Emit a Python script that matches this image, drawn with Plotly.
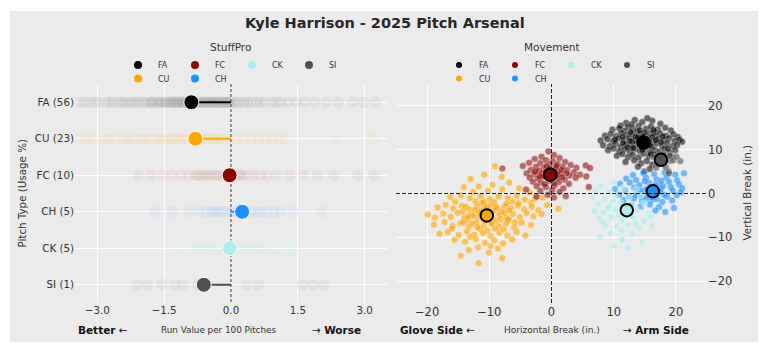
import plotly.graph_objects as go

W, H = 769, 351
def px(x): return x / W
def py(y): return 1 - y / H

FONT = "DejaVu Sans"
TXT = "#333333"
BG = "#ebebeb"

# ---------------- data ----------------
PITCHES = ["FA", "CU", "FC", "CH", "CK", "SI"]
USAGE = [56, 23, 10, 5, 5, 1]
COLORS = ["#000000", "#FFA500", "#8B0000", "#1E90FF", "#AFEEEE", "#505050"]
LEGEND_ORDER_ROW1 = ["FA", "FC", "CK", "SI"]
LEGEND_ORDER_ROW2 = ["CU", "CH"]

# StuffPro run value per 100 pitches (mean) and individual faded values
RV_MEAN = [-0.89, -0.80, -0.03, 0.25, -0.03, -0.61]
RV_FA = [-3.42, -3.29, -3.18, -3.05, -2.97, -2.81, -2.72, -2.64, -2.52, -2.44, -2.38, -2.29,
         -2.21, -2.13, -2.07, -1.96, -1.91, -1.83, -1.77, -1.74, -1.66, -1.62, -1.58, -1.51,
         -1.47, -1.44, -1.37, -1.33, -1.31, -1.24, -1.21, -1.19, -1.12, -1.09, -1.06, -1.01,
         -0.98, -0.96, -0.91, -0.87, -0.84, -0.78, -0.75, -0.73, -0.66, -0.63, -0.61, -0.55,
         -0.52, -0.48, -0.43, -0.41, -0.37, -0.31, -0.28, -0.26, -0.19, -0.16, -0.13, -0.08,
         -0.05, -0.03, 0.06, 0.12, 0.18, 0.29, 0.37, 0.44, 0.58, 0.66, 0.76, 0.93, 1.02,
         1.12, 1.28, 1.47, 1.66, 1.88, 2.14, 2.41, 2.73, 2.97, 3.24]
RV_CU = [-3.41, -3.22, -3.13, -2.88, -2.74, -2.62, -2.43, -2.31, -2.19, -2.02, -1.93, -1.84,
         -1.69, -1.61, -1.52, -1.38, -1.31, -1.24, -1.12, -1.05, -0.99, -0.88, -0.83, -0.79,
         -0.68, -0.62, -0.56, -0.42, -0.36, -0.31, -0.17, -0.04, 0.13, 0.28, 0.44, 0.61,
         0.78, 0.93, 1.08, 1.19, 2.36, 3.18]
RV_FC = [-2.08, -1.79, -1.52, -1.31, -1.12, -0.94, -0.81, -0.74, -0.69, -0.58, -0.51, -0.46,
         -0.34, -0.28, -0.22, -0.11, -0.06, 0.04, 0.16, 0.21, 0.27, 0.39, 0.52, 0.66, 0.81,
         1.02, 1.31, 1.63, 1.94, 2.31, 2.84, 3.21]
RV_CH = [-1.72, -1.31, -0.93, -0.71, -0.56, -0.42, -0.36, -0.29, -0.18, -0.09, 0.02, 0.11,
         0.21, 0.32, 0.44, 0.56, 0.67, 0.81, 0.96, 1.12, 1.41, 2.03]
RV_CK = [-1.21, -0.83, -0.72, -0.58, -0.44, -0.31, -0.16, 0.04, 0.21, 0.36, 0.49,
         0.62, 0.74, 0.98, 1.42]
RV_SI = [-2.11, -1.88, -1.54, -1.26, -1.08, -0.74, 0.34, 0.61, 1.59, 1.84, 2.09]
RV_ALL = [RV_FA, RV_CU, RV_FC, RV_CH, RV_CK, RV_SI]
RV_ALPHA = [0.045, 0.05, 0.045, 0.05, 0.07, 0.06]

# Movement (horizontal break, vertical break) in inches
MOVE_MEAN_H = [14.8, -10.4, -0.2, 16.3, 12.1, 17.6]
MOVE_MEAN_V = [11.6, -5.0, 4.3, 0.5, -3.8, 7.7]

FA_MOVE = [(12.0, 16.1), (13.4, 16.8), (14.6, 16.3), (16.2, 16.6), (17.5, 15.9), (11.1, 15.5), (15.4, 17.2),
           (9.8, 14.6), (10.9, 14.9), (12.3, 15.2), (13.1, 14.7), (14.0, 15.4), (15.2, 14.8), (16.0, 15.3),
           (17.1, 14.6), (18.3, 15.0), (19.2, 14.4), (11.7, 14.3), (13.8, 14.2), (16.6, 14.1),
           (8.6, 13.2), (9.5, 13.6), (10.4, 13.1), (11.2, 13.8), (12.0, 13.3), (12.9, 13.7), (13.6, 13.1),
           (14.4, 13.6), (15.1, 13.2), (15.9, 13.8), (16.7, 13.3), (17.5, 13.7), (18.4, 13.2), (19.6, 13.5),
           (20.3, 12.9), (7.9, 12.1), (9.0, 12.4), (9.9, 11.9), (10.8, 12.6), (11.6, 12.1), (12.5, 12.7),
           (13.3, 12.2), (14.1, 12.5), (15.6, 12.6), (16.4, 12.0), (17.2, 12.5), (18.0, 12.1), (18.9, 12.6),
           (19.8, 12.0), (20.6, 12.3), (21.0, 11.8), (8.3, 11.0), (9.4, 10.8), (10.3, 11.4), (11.1, 10.7),
           (12.0, 11.2), (12.8, 10.9), (13.7, 11.5), (14.5, 10.8), (15.3, 11.3), (16.1, 10.7), (16.9, 11.4),
           (17.8, 10.9), (18.6, 11.5), (19.5, 10.8), (20.2, 11.1), (9.1, 9.9), (10.0, 10.3), (10.9, 9.6),
           (11.8, 10.1), (12.6, 9.5), (13.4, 10.2), (14.2, 9.7), (15.0, 10.3), (15.8, 9.5), (16.6, 10.0),
           (17.4, 9.6), (18.2, 10.2), (19.0, 9.4), (19.9, 9.9), (10.5, 8.6), (11.4, 9.0), (12.3, 8.3),
           (13.1, 8.8), (14.0, 8.2), (14.8, 9.1), (15.7, 8.5), (16.5, 8.9), (17.3, 8.1), (18.1, 8.7),
           (19.3, 8.4), (11.9, 7.2), (13.3, 7.6), (14.4, 6.9), (15.3, 7.4), (16.2, 6.6), (17.0, 7.1),
           (15.8, 5.6), (14.9, 5.0), (13.9, 6.1), (13.0, 11.8), (14.9, 12.1), (15.7, 11.9), (14.3, 11.1),
           (13.5, 12.9), (16.2, 12.9), (12.2, 10.5), (17.6, 11.7), (15.0, 13.9), (12.7, 14.0), (14.6, 10.0),
           (16.0, 9.0), (13.9, 12.8), (15.4, 12.3), (12.6, 12.0), (16.8, 12.2), (14.2, 14.4), (11.4, 12.9),
           (17.9, 13.0), (13.1, 10.4), (15.9, 10.9), (14.7, 13.0), (12.9, 15.8), (10.2, 12.3), (18.7, 10.3),
           (16.4, 14.5), (11.5, 11.5), (14.1, 11.9)]
CU_MOVE = [(-9.1, 6.2), (-10.8, 4.3), (-13.0, 3.3), (-8.0, 3.8), (-6.8, 2.5), (-9.5, 2.0), (-11.7, 1.6),
           (-14.1, 1.4), (-5.2, 1.2), (-7.9, 0.9), (-10.2, 0.6), (-12.6, 0.3), (-3.5, 0.2),
           (-16.3, -0.8), (-14.6, -0.4), (-13.1, -1.1), (-11.4, -0.6), (-9.9, -1.3), (-8.5, -0.7),
           (-7.0, -1.0), (-5.6, -0.5), (-4.3, -1.4), (-2.6, -1.2), (-1.4, -0.9), (-15.5, -1.9),
           (-12.2, -1.8), (-9.2, -2.0), (-6.3, -1.9), (-3.3, -2.1), (1.1, -3.5), (-0.7, -2.6),
           (-18.3, -3.2), (-17.0, -2.6), (-15.8, -3.4), (-14.4, -2.8), (-13.2, -3.6), (-12.0, -2.9),
           (-10.9, -3.3), (-9.8, -2.7), (-8.7, -3.5), (-7.6, -2.9), (-6.5, -3.4), (-5.4, -2.8),
           (-4.4, -3.6), (-3.2, -3.0), (-2.1, -3.8), (-11.5, -4.0), (-8.1, -4.1),
           (-19.9, -4.8), (-18.7, -5.5), (-17.4, -4.6), (-16.2, -5.3), (-15.1, -4.4), (-14.0, -5.6),
           (-12.9, -4.8), (-11.8, -5.4), (-10.6, -4.6), (-9.5, -5.7), (-8.4, -4.9), (-7.3, -5.5),
           (-6.2, -4.7), (-5.1, -5.4), (-4.0, -4.5), (-2.9, -5.2), (-1.6, -4.7), (-13.5, -6.0),
           (-9.9, -5.1), (-7.0, -6.1), (-18.9, -7.1), (-17.2, -6.5), (-15.9, -7.4), (-14.7, -6.8),
           (-13.3, -7.6), (-12.1, -6.6), (-10.9, -7.3), (-9.7, -6.7), (-8.5, -7.5), (-7.3, -6.9),
           (-6.0, -7.7), (-4.8, -6.6), (-3.3, -7.2), (-16.0, -8.0), (-11.5, -8.1), (-18.0, -9.2),
           (-16.7, -8.8), (-14.9, -9.5), (-13.6, -8.7), (-12.4, -9.4), (-11.0, -9.0), (-9.8, -9.7),
           (-8.4, -8.9), (-7.1, -9.6), (-5.6, -8.8), (-4.2, -9.6), (-10.3, -8.5), (-15.6, -10.6),
           (-13.9, -11.0), (-12.2, -10.4), (-10.7, -11.3), (-9.2, -10.7), (-7.8, -11.4), (-6.3, -10.5),
           (-11.8, -12.3), (-8.6, -12.6), (-13.3, -12.9), (-10.1, -13.5), (-11.7, -15.9), (-7.9, -14.8),
           (-14.6, -14.2), (-9.8, -12.0), (-11.2, -2.2), (-8.9, -6.2), (-12.6, -5.1), (-6.8, -3.9),
           (-10.1, -4.2), (-14.3, -4.1), (-7.7, -8.2), (-13.1, -9.9), (-5.3, -2.3), (-10.5, -6.0),
           (-11.6, -4.3), (-9.3, -3.9), (-10.8, -6.3), (-8.2, -5.8), (-12.3, -3.7), (-9.6, -6.9),
           (-11.1, -5.6), (-7.6, -4.4), (-13.4, -5.2), (-10.4, -3.1), (-8.9, -3.1), (-12.7, -6.9),
           (-6.9, -5.9), (-11.9, -7.7), (-9.1, -8.0), (-14.2, -6.6), (-7.2, -2.3), (-10.9, -1.9),
           (-13.8, -3.0), (-5.9, -6.6)]
FC_MOVE = [(-0.5, 9.6), (0.4, 8.8), (-1.6, 8.4), (1.3, 8.1), (-2.7, 7.9), (-0.9, 7.6), (0.2, 7.4),
           (2.2, 7.2), (-3.6, 7.0), (-1.8, 6.9), (-0.3, 6.6), (1.0, 6.8), (3.1, 6.5), (-4.6, 6.3),
           (-2.5, 6.1), (-1.2, 5.9), (0.6, 5.8), (1.8, 6.0), (4.0, 5.9), (5.5, 6.4), (-3.3, 5.4),
           (-2.0, 5.2), (-0.7, 5.3), (0.9, 5.0), (2.5, 5.3), (3.6, 4.8), (6.2, 5.8), (-4.0, 4.6),
           (-2.8, 4.4), (-1.5, 4.6), (0.3, 4.2), (1.5, 4.5), (2.9, 4.1), (4.6, 4.3), (-3.5, 3.6),
           (-2.2, 3.4), (-1.0, 3.8), (0.9, 3.5), (2.1, 3.2), (3.9, 3.6), (5.6, 3.9), (-3.0, 2.7),
           (-1.7, 2.5), (-0.4, 2.9), (1.2, 2.6), (2.8, 2.2), (-2.4, 1.7), (-0.9, 1.5), (0.5, 1.8),
           (1.9, 1.2), (-1.8, 0.6), (0.1, 0.8), (1.3, 0.4), (-0.6, -0.3), (0.4, -0.9), (-2.4, -0.7),
           (2.3, -0.6), (-1.3, 4.0), (0.0, 5.0), (-0.2, 3.3), (1.0, 4.4), (-0.8, 6.2), (6.0, 1.5),
           (-7.9, 5.7), (-4.1, 0.9), (-0.9, 4.9), (0.7, 3.9), (-1.9, 3.9), (1.6, 5.4), (-0.3, 5.7),
           (0.4, 2.3), (-2.6, 5.0), (2.4, 4.6), (-1.1, 2.1), (0.8, 6.3), (-0.6, 3.7), (1.7, 3.7)]
CH_MOVE = [(13.1, 4.2), (14.8, 4.7), (16.5, 4.4), (18.2, 4.8), (19.9, 4.3), (21.3, 4.6), (12.0, 3.4),
           (13.6, 3.1), (15.2, 3.6), (16.9, 3.2), (18.5, 3.7), (20.2, 3.0), (11.0, 2.2), (12.6, 2.5),
           (14.1, 1.9), (15.7, 2.4), (17.3, 2.0), (18.9, 2.6), (20.5, 2.1), (21.0, 1.2), (10.2, 1.0),
           (11.8, 0.8), (13.3, 1.3), (14.9, 0.7), (16.0, 1.5), (17.6, 0.9), (19.2, 1.4), (20.8, 0.3),
           (10.9, -0.3), (12.4, -0.6), (13.9, 0.1), (15.5, -0.4), (17.0, -0.1), (18.6, -0.7),
           (20.1, -0.4), (11.6, -1.5), (13.2, -1.2), (14.6, -1.8), (16.2, -1.4), (17.8, -1.9),
           (19.4, -1.6), (12.8, -2.6), (14.3, -3.0), (15.8, -2.5), (17.3, -3.1), (18.3, -4.2),
           (19.7, -3.3), (16.7, -3.9), (15.0, 2.8), (16.8, 0.2), (14.5, -0.9), (17.9, 1.7),
           (16.1, -0.8), (15.4, 1.1), (15.9, 0.3), (17.4, 0.5), (14.2, 0.6), (16.6, 1.9),
           (18.1, -0.3), (15.2, -1.3), (16.9, -1.2), (13.6, -0.4), (17.7, 2.9), (19.5, 0.6)]
CK_MOVE = [(8.0, 1.8), (10.1, 2.6), (7.1, 0.8), (9.3, 0.4), (11.5, 1.2), (13.6, 0.9), (6.6, -0.9),
           (8.6, -1.2), (10.4, -0.6), (12.4, -1.0), (14.3, -0.5), (7.5, -2.4), (9.4, -2.8), (11.1, -2.1),
           (13.0, -2.6), (14.9, -2.2), (6.9, -4.0), (8.4, -4.4), (10.2, -3.7), (12.0, -4.3), (13.8, -3.8),
           (15.6, -4.5), (7.7, -5.8), (9.6, -5.4), (11.4, -6.1), (13.2, -5.6), (14.8, -6.3), (8.6, -7.3),
           (10.5, -7.6), (12.3, -7.1), (14.0, -7.9), (16.2, -7.4), (7.8, -9.9), (9.5, -9.0),
           (11.4, -10.6), (12.9, -9.3), (14.5, -11.2), (11.3, -10.6), (10.1, -12.0), (12.2, -12.5),
           (15.9, -5.3), (9.9, -1.6), (11.9, -5.0), (10.8, -4.9), (12.8, -4.9), (9.1, -3.3),
           (11.3, -8.4), (13.5, -6.9), (8.2, -6.6)]
SI_MOVE = [(19.1, 7.5), (20.7, 7.4), (18.4, 6.0), (18.8, 5.0), (19.6, 7.6), (16.5, 8.3), (18.0, 9.0),
           (17.2, 6.8), (20.1, 8.4), (16.8, 5.9), (19.0, 8.6), (17.9, 7.2), (18.9, 4.6)]
MOVE_ALL = [FA_MOVE, CU_MOVE, FC_MOVE, CH_MOVE, CK_MOVE, SI_MOVE]
MOVE_ALPHA = [0.55, 0.6, 0.55, 0.6, 0.6, 0.6]

RV_TICKS = [-3.0, -1.5, 0.0, 1.5, 3.0]
RV_RANGE = [-3.5, 3.5]
MOVE_TICKS = [-20, -10, 0, 10, 20]
MOVE_RANGE = [-25, 25]

# ---------------- figure ----------------
fig = go.Figure()

def rgba(hexc, a):
    h = hexc.lstrip("#")
    r, g, b = int(h[0:2], 16), int(h[2:4], 16), int(h[4:6], 16)
    return f"rgba({r},{g},{b},{a})"

YCAT_RANGE = [len(PITCHES) - 0.5, -0.5]

# left: StuffPro faded values
for i, (p, c) in enumerate(zip(PITCHES, COLORS)):
    vals = RV_ALL[i]
    a = RV_ALPHA[i]
    fig.add_trace(go.Scatter(
        x=vals, y=[i] * len(vals), mode="markers", xaxis="x", yaxis="y",
        marker=dict(size=11, color=rgba(c, a), line=dict(color=rgba(c, a * 0.6), width=0.8)),
        showlegend=False, hoverinfo="skip"))
# zero reference line (left)
fig.add_trace(go.Scatter(
    x=[0, 0], y=[YCAT_RANGE[1], YCAT_RANGE[0]], mode="lines", xaxis="x", yaxis="y",
    line=dict(color="#707070", width=1.5, dash="3px,2px"), showlegend=False, hoverinfo="skip"))
for i, (p, c) in enumerate(zip(PITCHES, COLORS)):
    fig.add_trace(go.Scatter(
        x=[0, RV_MEAN[i]], y=[i, i], mode="lines", xaxis="x", yaxis="y",
        line=dict(color=c, width=2), showlegend=False, hoverinfo="skip"))
for i, (p, c) in enumerate(zip(PITCHES, COLORS)):
    fig.add_trace(go.Scatter(
        x=[RV_MEAN[i]], y=[i], mode="markers", xaxis="x", yaxis="y",
        marker=dict(size=15, color=c, line=dict(color="white", width=1)),
        showlegend=False))

# right: movement scatter
for i, (p, c) in enumerate(zip(PITCHES, COLORS)):
    pts = MOVE_ALL[i]
    fig.add_trace(go.Scatter(
        x=[q[0] for q in pts], y=[q[1] for q in pts], mode="markers", xaxis="x2", yaxis="y2",
        marker=dict(size=7, color=c, opacity=MOVE_ALPHA[i], line=dict(color="white", width=0.5)),
        showlegend=False))
for i, (p, c) in enumerate(zip(PITCHES, COLORS)):
    fig.add_trace(go.Scatter(
        x=[MOVE_MEAN_H[i]], y=[MOVE_MEAN_V[i]], mode="markers", xaxis="x2", yaxis="y2",
        marker=dict(size=12.5, color=c, line=dict(color="black", width=2)),
        showlegend=False))

# legends (legend entries only)
def add_leg(names, legend_id, size, xa, ya):
    for p in names:
        c = COLORS[PITCHES.index(p)]
        fig.add_trace(go.Scatter(
            x=[None], y=[None], mode="markers", name=p, legend=legend_id,
            xaxis=xa, yaxis=ya, marker=dict(size=size, color=c), showlegend=True))

add_leg(LEGEND_ORDER_ROW1, "legend", 8, "x", "y")
add_leg(LEGEND_ORDER_ROW2, "legend2", 8, "x", "y")
add_leg(LEGEND_ORDER_ROW1, "legend3", 6, "x2", "y2")
add_leg(LEGEND_ORDER_ROW2, "legend4", 6, "x2", "y2")

def leg(xpix, ypix, ew):
    return dict(x=px(xpix), y=py(ypix), xanchor="left", yanchor="middle",
                orientation="h", entrywidth=ew, entrywidthmode="pixels",
                bgcolor="rgba(0,0,0,0)", borderwidth=0,
                font=dict(family=FONT, size=8, color=TXT), itemsizing="trace",
                traceorder="normal")

YDOM = [py(303), py(84)]
axis_common = dict(showgrid=True, gridcolor="white", gridwidth=1, zeroline=False,
                   showline=False, ticks="")

fig.update_layout(
    width=W, height=H, margin=dict(l=0, r=0, t=0, b=0, pad=0),
    paper_bgcolor="white", plot_bgcolor=BG,
    font=dict(family=FONT, color=TXT),
    xaxis=dict(domain=[px(75), px(387)], range=RV_RANGE, tickvals=RV_TICKS,
               tickformat=".1f", tickfont=dict(size=10.3, color=TXT), anchor="y", **axis_common),
    yaxis=dict(domain=YDOM, range=YCAT_RANGE, tickvals=list(range(len(PITCHES))),
               ticktext=[f"{p} ({u})" for p, u in zip(PITCHES, USAGE)],
               tickfont=dict(size=10.3, color=TXT), anchor="x", **axis_common),
    xaxis2=dict(domain=[px(396), px(707)], range=MOVE_RANGE, tickvals=MOVE_TICKS,
                tickfont=dict(size=11.5, color=TXT), anchor="y2", **axis_common),
    yaxis2=dict(domain=YDOM, range=MOVE_RANGE, tickvals=MOVE_TICKS, side="right",
                tickfont=dict(size=11.5, color=TXT), anchor="x2", **axis_common),
    legend=leg(118, 65, 12), legend2=leg(118, 78.5, 12),
    legend3=leg(439, 65, 11), legend4=leg(439, 78.5, 11),
    showlegend=True,
)

shapes = [
    dict(type="rect", xref="paper", yref="paper", x0=px(10), x1=px(758), y0=py(342), y1=py(11),
         fillcolor=BG, line=dict(width=0), layer="below"),
    dict(type="line", xref="x2", yref="y2 domain", x0=0, x1=0, y0=0, y1=1,
         line=dict(color="#222222", width=1, dash="4px,2px"), layer="above"),
    dict(type="line", xref="x2 domain", yref="y2", x0=0, x1=1, y0=0, y1=0,
         line=dict(color="#222222", width=1, dash="4px,2px"), layer="above"),
]
fig.update_layout(shapes=shapes)

def ann(text, xpix, ypix, size, xanchor="center", angle=0, color=TXT):
    return dict(text=text, x=px(xpix), y=py(ypix), xref="paper", yref="paper",
                xanchor=xanchor, yanchor="middle", showarrow=False, textangle=angle,
                font=dict(family=FONT, size=size, color=color))

annotations = [
    ann("<b>Kyle Harrison - 2025 Pitch Arsenal</b>", 384.5, 23, 14.5, color="#262626"),
    ann("StuffPro", 230, 47, 10.5),
    ann("Movement", 551.7, 47, 10.5),
    ann("Pitch Type (Usage %)", 21, 193.5, 10.3, angle=-90),
    ann("Vertical Break (in.)", 746, 193.5, 10.3, angle=-90),
    ann("<b>Better</b> ←", 76, 329.5, 10.5, xanchor="left", color="#111111"),
    ann("Run Value per 100 Pitches", 218.8, 330, 8.8),
    ann("→ <b>Worse</b>", 362.7, 329.5, 10.5, xanchor="right", color="#111111"),
    ann("<b>Glove Side</b> ←", 398, 329.5, 10.5, xanchor="left", color="#111111"),
    ann("Horizontal Break (in.)", 551.5, 330, 9),
    ann("→ <b>Arm Side</b>", 691, 329.5, 10.5, xanchor="right", color="#111111"),
]
fig.update_layout(annotations=annotations)

fig.write_html("out.html")
